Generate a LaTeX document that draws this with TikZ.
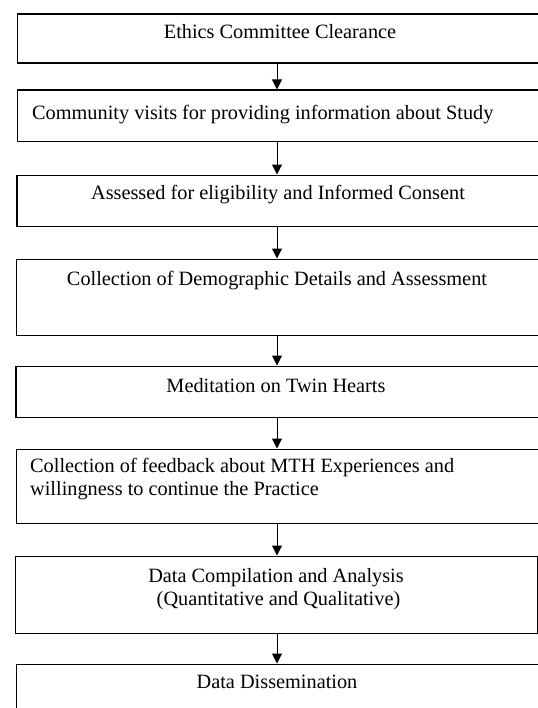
\documentclass[tikz,border=0pt]{standalone}
\usepackage{fontspec}
\setmainfont{Liberation Serif}
\usetikzlibrary{arrows.meta}
\begin{document}
\begin{tikzpicture}[x=1bp,y=-1bp,
  box/.style={draw=black,line width=1.6bp,rectangle,anchor=north west,inner sep=0pt,minimum width=526bp},
  lbl/.style={anchor=base,inner sep=0pt,font=\fontsize{20.3bp}{23bp}\selectfont},
  lbll/.style={anchor=base west,inner sep=0pt,font=\fontsize{20.3bp}{23bp}\selectfont},
  arr/.style={draw=black,line width=1bp,-{Triangle[width=10bp,length=10bp]}}]
\useasboundingbox (0,0) rectangle (538,708);
\clip (0,0) rectangle (538,708);
\coordinate (ax) at (277,0);
\node[box,minimum height=49bp] (b1) at (16.5,13.5) {};
\node[box,minimum height=51bp] (b2) at (16.5,89.5) {};
\node[box,minimum height=51bp] (b3) at (16,174.5) {};
\node[box,minimum height=76bp] (b4) at (15.5,258.5) {};
\node[box,minimum height=51bp] (b5) at (15,365.5) {};
\node[box,minimum height=74bp] (b6) at (15.5,448.5) {};
\node[box,minimum height=77bp,minimum width=522bp] (b7) at (14.5,555.5) {};
\node[box,minimum height=80bp] (b8) at (15.5,663.5) {};
\node[lbl] (t1) at (280,39) {Ethics Committee Clearance};
\node[lbll] (t2) at (32,120) {Community visits for providing information about Study};
\node[lbl] (t3) at (278,199) {Assessed for eligibility and Informed Consent};
\node[lbl] (t4) at (277,285) {Collection of Demographic Details and Assessment};
\node[lbl] (t5) at (276,392) {Meditation on Twin Hearts};
\node[lbll] (t6a) at (30,472.5) {Collection of feedback about MTH Experiences and};
\node[lbll] (t6b) at (30,495.5) {willingness to continue the Practice};
\node[lbl] (t7a) at (276,582) {Data Compilation and Analysis};
\node[lbl] (t7b) at (278.5,605) {(Quantitative and Qualitative)};
\node[lbl] (t8) at (277,688) {Data Dissemination};
\draw[arr] (b1.south -| ax) -- (b2.north -| ax);
\draw[arr] (b2.south -| ax) -- (b3.north -| ax);
\draw[arr] (b3.south -| ax) -- (b4.north -| ax);
\draw[arr] (b4.south -| ax) -- (b5.north -| ax);
\draw[arr] (b5.south -| ax) -- (b6.north -| ax);
\draw[arr] (b6.south -| ax) -- (b7.north -| ax);
\draw[arr] (b7.south -| ax) -- (b8.north -| ax);
\end{tikzpicture}
\end{document}
